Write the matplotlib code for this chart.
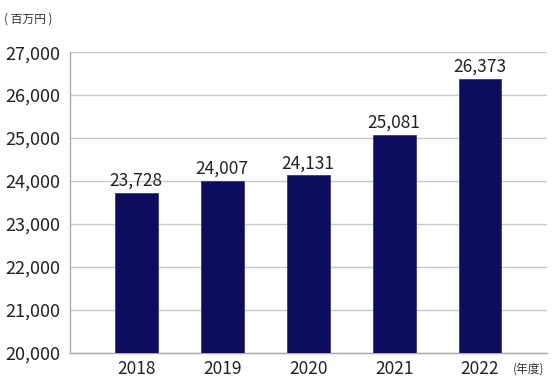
import numpy as np
import matplotlib.pyplot as plt

plt.rcParams['font.family'] = ['Noto Sans CJK JP', 'DejaVu Sans']

# data
years = ['2018', '2019', '2020', '2021', '2022']
sales = [23728, 24007, 24131, 25081, 26373]
y_ticks = [20000, 21000, 22000, 23000, 24000, 25000, 26000, 27000]

fig = plt.figure(figsize=(5.52, 3.92), dpi=100)
ax = fig.add_axes([0.127, 0.0995, 0.864, 0.7675])

x = np.arange(len(years))
bars = ax.bar(x, sales, width=0.5, color='#0e0c5f', edgecolor='#3a3a7a', linewidth=0.6, zorder=3)

for xi, v in zip(x, sales):
    ax.text(xi, v + 70, f"{v:,}", ha='center', va='bottom', fontsize=12.5, color='#222222')

ax.set_ylim(20000, 27000)
ax.set_xlim(-0.77, 4.78)
ax.set_yticks(y_ticks)
ax.set_yticklabels([f"{t:,}" for t in y_ticks], fontsize=13, color='#222222')
ax.set_xticks(x)
ax.set_xticklabels(years, fontsize=12.5, color='#222222')
ax.tick_params(axis='y', length=0, pad=7)
ax.tick_params(axis='x', length=0, pad=5)

ax.grid(axis='y', color='#c8c8c8', linewidth=1, zorder=0)
for s in ['top', 'right']:
    ax.spines[s].set_visible(False)
for s in ['left', 'bottom']:
    ax.spines[s].set_color('#aaaaaa')
    ax.spines[s].set_linewidth(1)

fig.text(0.007, 0.951, '( 百万円 )', fontsize=8.5, color='#333333', ha='left', va='center')
fig.text(0.987, 0.058, '(年度)', fontsize=8.5, color='#333333', ha='right', va='center')

plt.savefig('out.png', dpi=100)
